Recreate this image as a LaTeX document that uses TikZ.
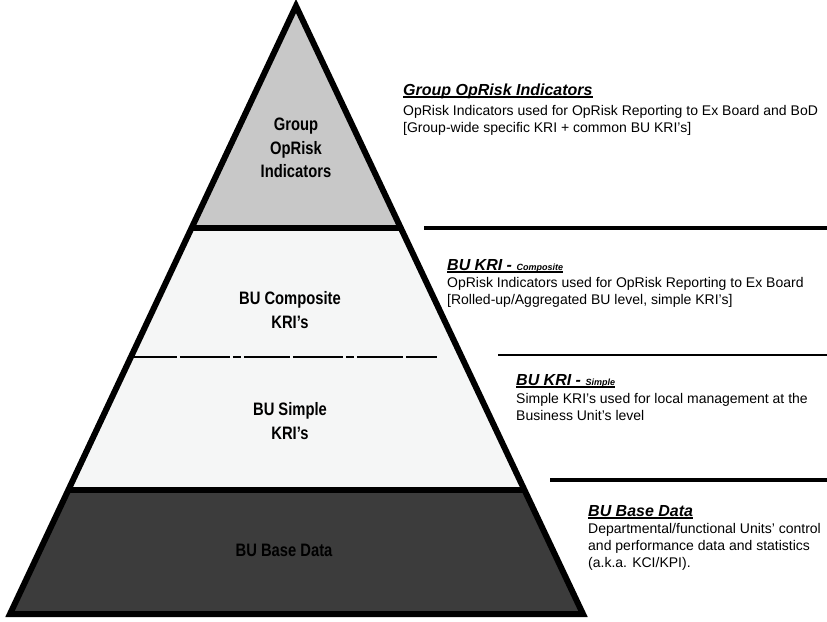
\documentclass[tikz,border=0pt]{standalone}
\usepackage{fontspec}
\usepackage{xcolor}
\usepackage{tikz}
\usetikzlibrary{calc}
\setmainfont{Liberation Sans}
\newfontfamily\narrowsf[FakeStretch=0.82]{Liberation Sans}
\definecolor{TopGray}{RGB}{200,200,200}
\definecolor{MidGray}{RGB}{245,246,246}
\definecolor{BaseGray}{RGB}{60,60,60}
\newcommand\ttlul[1]{\setbox0\hbox{#1}\rlap{\rule[-2.8pt]{\wd0}{1.7pt}}\box0}

\begin{document}
\begin{tikzpicture}[x=1pt, y=-1pt, every node/.style={inner sep=0pt},
    lbl/.style={align=center, font=\narrowsf\bfseries\fontsize{18}{23.5}\selectfont},
    ttl/.style={anchor=base west, font=\bfseries\itshape\fontsize{16}{18}\selectfont},
    txt/.style={anchor=north west, align=left, font=\fontsize{14}{17}\selectfont}]
    \useasboundingbox (0,0) rectangle (827,621);
    % pyramid corners and band edges
    \coordinate (top) at (296,6);
    \coordinate (bl) at (10,614);
    \coordinate (br) at (583,614);
    \coordinate (l1) at ($(top)!0.365!(bl)$);
    \coordinate (r1) at ($(top)!0.365!(br)$);
    \coordinate (l2) at ($(top)!0.796!(bl)$);
    \coordinate (r2) at ($(top)!0.796!(br)$);
    \coordinate (dl) at ($(top)!0.577!(bl)$);
    \coordinate (dr) at ($(dl)+(306,0)$);

    \fill[TopGray] (top) -- (l1) -- (r1) -- cycle;
    \fill[MidGray] (l1) -- (l2) -- (r2) -- (r1) -- cycle;
    \fill[BaseGray] (l2) -- (bl) -- (br) -- (r2) -- cycle;
    \draw[line width=6pt] (l1) -- (r1);
    \draw[line width=6pt] (l2) -- (r2);
    \draw[line width=2.5pt, dash pattern=on 46pt off 3pt on 50pt off 3pt on 8pt off 3pt] (dl) -- (dr);
    \draw[line width=6pt, line join=miter] (top) -- (bl) -- (br) -- cycle;

    \node[lbl] (grp) at (296,148) {Group\\OpRisk\\Indicators};
    \node[lbl] (comp) at (290,310) {BU Composite\\KRI’s};
    \node[lbl] (simp) at (290,421) {BU Simple\\KRI’s};
    \node[lbl] (base) at (284,550) {BU Base Data};

    % right hand rules
    \draw[line width=4pt] (424,228) -- (827,228);
    \draw[line width=2pt] (498,355) -- (827,355);
    \draw[line width=4pt] (550,480) -- (827,480);

    \node[ttl] (t1) at (403,95) {\ttlul{Group OpRisk Indicators}};
    \node[txt] (d1) at (403,105) {OpRisk Indicators used for OpRisk Reporting to Ex Board and BoD\\{[}Group-wide specific KRI + common BU KRI's]};
    \node[ttl] (t2) at (447,270) {\ttlul{BU KRI - {\fontsize{9}{10}\selectfont Composite}}};
    \node[txt] (d2) at (447,277) {OpRisk Indicators used for OpRisk Reporting to Ex Board\\{[}Rolled-up/Aggregated BU level, simple KRI's]};
    \node[ttl] (t3) at (516,385) {\ttlul{BU KRI - {\fontsize{9}{10}\selectfont Simple}}};
    \node[txt] (d3) at (516,393) {Simple KRI's used for local management at the\\Business Unit's level};
    \node[ttl] (t4) at (588,516) {\ttlul{BU Base Data}};
    \node[txt] (d4) at (588,523) {Departmental/functional Units' control\\and performance data and statistics\\(a.k.a. KCI/KPI).};
\end{tikzpicture}
\end{document}
